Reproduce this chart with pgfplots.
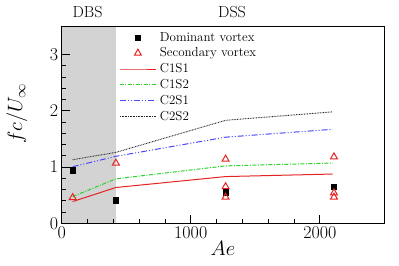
\documentclass[border=0pt]{standalone}
\usepackage{pgfplots}
\pgfplotsset{compat=1.18}
\definecolor{bandgray}{RGB}{211,211,211}
\definecolor{myred}{RGB}{230,35,35}
\definecolor{mygreen}{RGB}{40,210,40}
\definecolor{myblue}{RGB}{70,70,250}
\begin{document}
\begin{tikzpicture}
\begin{axis}[
  scale only axis, width=322.6pt, height=197pt,
  xmin=0, xmax=2500, ymin=0, ymax=3.5,
  xtick={0,1000,2000}, ytick={0,1,2,3},
  minor x tick num=4, minor y tick num=4,
  tick align=inside, tick pos=left,
  major tick length=8pt, minor tick length=4.5pt,
  axis line style={line width=1.2pt},
  every tick/.style={line width=0.6pt, black},
  axis on top, clip=false,
  /pgf/number format/1000 sep={},
  /pgf/number format/assume math mode=true,
  ticklabel style={font=\fontsize{18}{18}\selectfont},
  xlabel={$Ae$}, ylabel={$fc/U_\infty$},
  xlabel style={font=\fontsize{22}{22}\selectfont, at={(rel axis cs:0.5,-0.13)}, anchor=center},
  ylabel style={font=\fontsize{22}{22}\selectfont, at={(rel axis cs:-0.1386,0.555)}, anchor=center},
  legend style={draw=none, fill=none, at={(axis cs:445.7,3.426)}, anchor=north west,
    inner xsep=0pt, inner ysep=0pt,
    font=\fontsize{13}{14}\selectfont, row sep=2.3pt,
    nodes={inner xsep=3.5pt, inner ysep=1pt, text height=9.5pt, text depth=2pt}},
  legend cell align=left,
  legend image code/.code={\draw[mark repeat=2,mark phase=2,#1] plot coordinates {(0pt,0pt) (18pt,0pt) (36pt,0pt)};},
]
\addplot[fill=bandgray, draw=none, forget plot] coordinates {(0,0) (420,0) (420,3.5) (0,3.5)} -- cycle;

\addplot[only marks, mark=square*, mark size=2.7pt, black] coordinates {
 (85,0.94) (420,0.41) (1270,0.55) (2110,0.65)};
\addlegendentry{Dominant vortex}
\addplot[only marks, mark=triangle, mark size=4pt, myred, line width=1pt] coordinates {
 (85,0.457) (420,1.07) (1270,1.14) (1270,0.65) (1270,0.465) (2110,1.18) (2110,0.54) (2110,0.465)};
\addlegendentry{Secondary vortex}
\addplot[color=myred, line width=1pt] coordinates {(85,0.386) (420,0.636) (1270,0.83) (2100,0.875)};
\addlegendentry{C1S1}
\addplot[color=mygreen, line width=1pt, dash pattern=on 4pt off 1.5pt on 1pt off 1.5pt] coordinates {(85,0.475) (420,0.79) (1270,1.02) (2100,1.07)};
\addlegendentry{C1S2}
\addplot[color=myblue, line width=1pt, dash pattern=on 6pt off 2pt on 1pt off 2pt on 1pt off 2pt] coordinates {(85,1.005) (420,1.19) (1270,1.53) (2100,1.67)};
\addlegendentry{C2S1}
\addplot[color=black!85, line width=0.9pt, dash pattern=on 0.8pt off 0.8pt] coordinates {(85,1.13) (420,1.26) (1270,1.83) (2100,1.98)};
\addlegendentry{C2S2}

\node[font=\fontsize{16}{16}\selectfont] at (axis cs:200,3.5) [yshift=14.6pt] {DBS};
\node[font=\fontsize{16}{16}\selectfont] at (axis cs:1320,3.5) [yshift=14.6pt] {DSS};
\coordinate (sw) at (rel axis cs:0,0);
\coordinate (ne) at (rel axis cs:1,1);
\end{axis}
\pgfresetboundingbox
\path ([shift={(-61.7pt,-42.7pt)}]sw) rectangle ([shift={(14.7pt,26.3pt)}]ne);
\end{tikzpicture}
\end{document}
